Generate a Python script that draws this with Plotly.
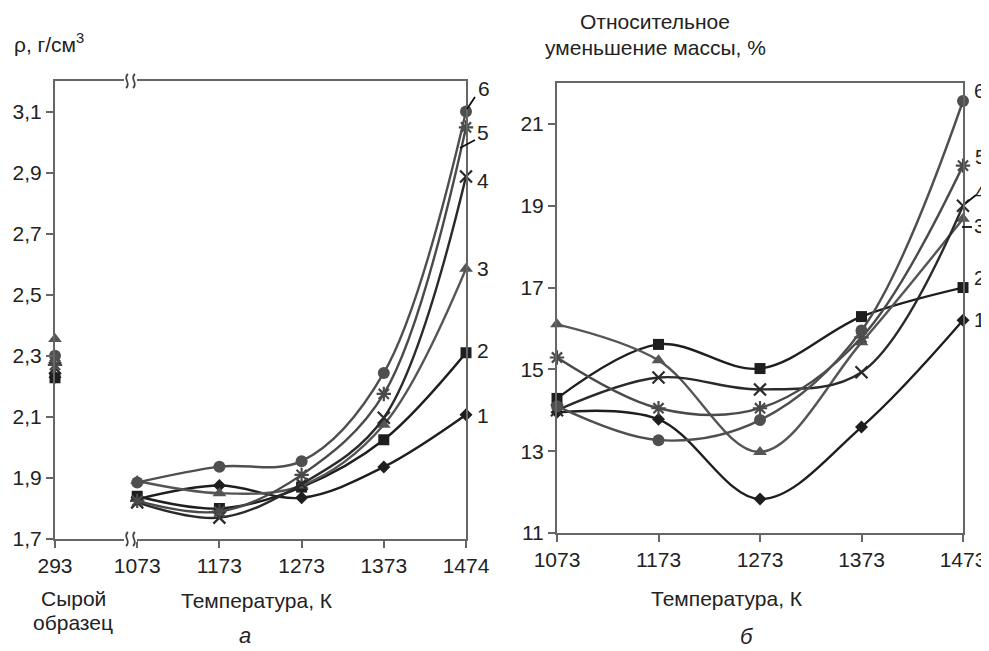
import plotly.graph_objects as go

# ---------------- data ----------------
temps_a = ["293", "1073", "1173", "1273", "1373", "1474"]
dens_1 = [2.23, 1.83, 1.875, 1.835, 1.936, 2.107]
dens_2 = [2.228, 1.84, 1.80, 1.87, 2.025, 2.31]
dens_3 = [2.355, 1.89, 1.85, 1.875, 2.074, 2.585]
dens_4 = [2.26, 1.82, 1.77, 1.88, 2.097, 2.887]
dens_5 = [2.27, 1.825, 1.79, 1.91, 2.175, 3.048]
dens_6 = [2.30, 1.885, 1.937, 1.955, 2.244, 3.10]

temps_b = ["1073", "1173", "1273", "1373", "1473"]
loss_1 = [13.95, 13.78, 11.83, 13.59, 16.2]
loss_2 = [14.29, 15.61, 15.02, 16.29, 17.0]
loss_3 = [16.10, 15.22, 12.98, 15.66, 18.68]
loss_4 = [14.0, 14.80, 14.51, 14.93, 19.0]
loss_5 = [15.29, 14.05, 14.05, 15.78, 19.98]
loss_6 = [14.10, 13.27, 13.76, 15.95, 21.56]

series_names = ["1", "2", "3", "4", "5", "6"]
dens = [dens_1, dens_2, dens_3, dens_4, dens_5, dens_6]
loss = [loss_1, loss_2, loss_3, loss_4, loss_5, loss_6]

symbols = ["diamond", "square", "triangle-up", "x-thin", "asterisk", "circle"]
colors = ["#1e1e1e", "#1e1e1e", "#555555", "#2a2a2a", "#4a4a4a", "#4f4f4f"]
msizes = [10, 11, 12, 12, 12, 12]

# the page body has an 8px margin; size the figure so it fits the 989x651 window
OFF = 8
W, H = 981, 643
FONT = "Liberation Sans, Arial, sans-serif"

def px(x):
    return (x - OFF) / W

def py(y):
    return (H - (y - OFF)) / H

fig = go.Figure()

xa = list(range(len(temps_a)))
xb = list(range(len(temps_b)))

for i in range(6):
    mk = dict(symbol=symbols[i], size=msizes[i], color=colors[i],
              line=dict(width=2.2 if symbols[i] in ("x-thin", "asterisk") else 0, color=colors[i]))
    # raw sample point (not connected)
    fig.add_trace(go.Scatter(x=[xa[0]], y=[dens[i][0]], mode="markers", marker=mk,
                             xaxis="x", yaxis="y", showlegend=False, cliponaxis=False))
    fig.add_trace(go.Scatter(x=xa[1:], y=dens[i][1:], mode="lines+markers",
                             line=dict(color=colors[i], width=2.4, shape="spline", smoothing=1.0),
                             marker=mk, xaxis="x", yaxis="y", showlegend=False, cliponaxis=False))
    fig.add_trace(go.Scatter(x=xb, y=loss[i], mode="lines+markers",
                             line=dict(color=colors[i], width=2.4, shape="spline", smoothing=1.0),
                             marker=mk, xaxis="x2", yaxis="y2", showlegend=False, cliponaxis=False))

axis_common = dict(showline=True, linecolor="#666666", linewidth=2, mirror=True,
                   ticks="outside", ticklen=7, tickcolor="#666666", tickwidth=1.5,
                   showgrid=False, zeroline=False, automargin=False,
                   tickfont=dict(family=FONT, size=21, color="#222222"))

fig.update_layout(
    template="none",
    width=W, height=H, margin=dict(l=0, r=0, t=0, b=0, pad=0), autosize=False,
    paper_bgcolor="white", plot_bgcolor="white", separators=", ",
    xaxis=dict(domain=[px(55), px(466)], range=[0, 5], anchor="y",
               tickvals=xa, ticktext=temps_a, **axis_common),
    yaxis=dict(domain=[py(539), py(81)], range=[1.7, 3.2], anchor="x",
               tick0=1.7, dtick=0.2, tickformat=".1f", **axis_common),
    xaxis2=dict(domain=[px(557), px(963)], range=[0, 4], anchor="y2",
                tickvals=xb, ticktext=temps_b, **axis_common),
    yaxis2=dict(domain=[py(533), py(83)], range=[11, 22], anchor="x2",
                tick0=11, dtick=2, **axis_common),
)

shapes = []
# axis break marks on panel a (top and bottom)
for yb in (81, 539):
    shapes.append(dict(type="rect", xref="paper", yref="paper",
                       x0=px(124), x1=px(137), y0=py(yb + 3), y1=py(yb - 3),
                       fillcolor="white", line=dict(width=0), layer="above"))
    for xc in (127, 134):
        path = "M {},{} C {},{} {},{} {},{}".format(
            px(xc + 1), py(yb - 7), px(xc - 5), py(yb - 2),
            px(xc + 5), py(yb + 2), px(xc - 1), py(yb + 7))
        shapes.append(dict(type="path", xref="paper", yref="paper", path=path,
                           line=dict(color="#444444", width=1.8), layer="above"))

# leader lines
for (x0, y0, x1, y1) in [(475, 97, 467, 109), (475, 140, 460, 148),
                         (976, 195, 966, 203), (962, 227, 972, 227)]:
    shapes.append(dict(type="line", xref="paper", yref="paper",
                       x0=px(x0), y0=py(y0), x1=px(x1), y1=py(y1),
                       line=dict(color="#111111", width=1.8)))
fig.update_layout(shapes=shapes)

ann = []
def text(x, y, s, size=21, italic=False, xanchor="center"):
    ann.append(dict(x=px(x), y=py(y), xref="paper", yref="paper", text=s, showarrow=False,
                    xanchor=xanchor, yanchor="middle",
                    font=dict(family=FONT, size=size, color="#222222",
                              style="italic" if italic else "normal")))

# series labels, panel a
for s, (x, y) in zip(series_names, [(483, 415), (483, 350), (483, 268), (483, 180), (483, 132), (484, 88)]):
    text(x, y, s, size=21)
# series labels, panel b
for s, (x, y) in zip(series_names, [(979, 320), (979, 278), (979, 226), (980, 192), (980, 157), (979, 91)]):
    text(x, y, s, size=20)

text(12, 43, "ρ, г/см<sup>3</sup>", size=21, xanchor="left")
text(655, 22, "Относительное", size=21)
text(655, 48, "уменьшение массы, %", size=21)
text(73, 598, "Сырой", size=21)
text(73, 622, "образец", size=21)
text(257, 600, "Температура, К", size=21)
text(727, 598, "Температура, К", size=21)
text(245, 635, "а", size=22, italic=True)
text(747, 636, "б", size=22, italic=True)
fig.update_layout(annotations=ann)

fig.write_html("out.html")
